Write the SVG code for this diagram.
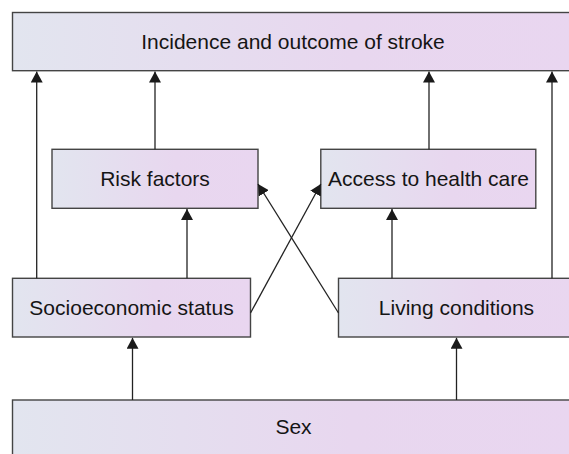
<svg xmlns="http://www.w3.org/2000/svg" width="569" height="454" viewBox="0 0 569 454">
<defs>
<linearGradient id="g" x1="0" y1="0" x2="1" y2="0">
<stop offset="0" stop-color="#e2e5ef"/>
<stop offset="0.6" stop-color="#e8d7ef"/>
<stop offset="1" stop-color="#e9d6f0"/>
</linearGradient>
<marker id="ah" viewBox="0 0 11 12" markerUnits="userSpaceOnUse" markerWidth="11" markerHeight="12" refX="11" refY="6" orient="auto">
<path d="M0,0 L11,6 L0,12 z" fill="#1a1a1a"/>
</marker>
<style>
.box{fill:url(#g);stroke:#444;stroke-width:1.4}
.lbl{font-family:"Liberation Sans",Arial,sans-serif;font-size:21px;fill:#151515;text-anchor:middle}
.c{stroke:#222;stroke-width:1.3;fill:none;marker-end:url(#ah)}
</style>
</defs>
<g id="outcome"><rect class="box" x="12.5" y="12.5" width="564" height="58.2"/><text class="lbl" x="293" y="49">Incidence and outcome of stroke</text></g>
<g id="risk"><rect class="box" x="52" y="149.3" width="206" height="59"/><text class="lbl" x="155" y="186">Risk factors</text></g>
<g id="access"><rect class="box" x="320.8" y="149.3" width="215" height="59"/><text class="lbl" x="428.5" y="186">Access to health care</text></g>
<g id="socio"><rect class="box" x="12.5" y="278.3" width="238" height="58.7"/><text class="lbl" x="131.5" y="315">Socioeconomic status</text></g>
<g id="living"><rect class="box" x="338.5" y="278.3" width="238" height="58.7"/><text class="lbl" x="456.5" y="315">Living conditions</text></g>
<g id="sex"><rect class="box" x="12.5" y="400" width="564" height="62"/><text class="lbl" x="293.5" y="434">Sex</text></g>
<g id="connectors">
<line class="c" x1="36.7" y1="278.3" x2="36.7" y2="71.5"/>
<line class="c" x1="155" y1="149.3" x2="155" y2="71.5"/>
<line class="c" x1="429" y1="149.3" x2="429" y2="71.5"/>
<line class="c" x1="552" y1="278.3" x2="552" y2="71.5"/>
<line class="c" x1="187" y1="278.3" x2="187" y2="209"/>
<line class="c" x1="392" y1="278.3" x2="392" y2="209"/>
<line class="c" x1="132.5" y1="400" x2="132.5" y2="337.8"/>
<line class="c" x1="456.5" y1="400" x2="456.5" y2="337.8"/>
<line class="c" x1="250.5" y1="313" x2="320.8" y2="184"/>
<line class="c" x1="338.5" y1="313" x2="258" y2="184"/>
</g>
</svg>
